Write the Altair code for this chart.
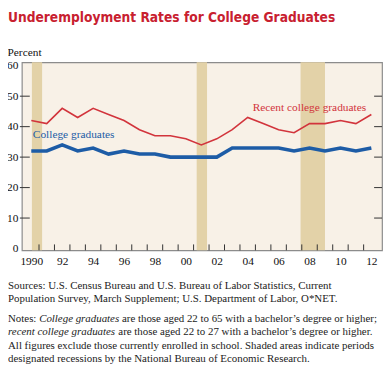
import altair as alt
import pandas as pd

years = list(range(1990, 2013))
recent = [42, 41, 46, 43, 46, 44, 42, 39, 37, 37, 36, 34, 36, 39, 43, 41, 39, 38, 41, 41, 42, 41, 44]
college = [32, 32, 34, 32, 33, 31, 32, 31, 31, 30, 30, 30, 30, 33, 33, 33, 33, 32, 33, 32, 33, 32, 33]
rec_start = [1990.54, 2001.2, 2007.92]
rec_end = [1991.2, 2001.87, 2009.5]
x_labels = ["1990", "92", "94", "96", "98", "00", "02", "04", "06", "08", "10", "12"]
y_ticks = [0, 10, 20, 30, 40, 50, 60]

title_text = "Underemployment Rates for College Graduates"
sources_text = ("Sources: U.S. Census Bureau and U.S. Bureau of Labor Statistics, Current\n"
                "Population Survey, March Supplement; U.S. Department of Labor, O*NET.")
notes_a = "Notes:"
notes_b = "College graduates"
notes_c = "are those aged 22 to 65 with a bachelor\u2019s degree or higher;"
notes_d = "recent college graduates"
notes_e = "are those aged 22 to 27 with a bachelor\u2019s degree or higher."
notes_f = ("All figures exclude those currently enrolled in school. Shaded areas indicate periods\n"
           "designated recessions by the National Bureau of Economic Research.")

W, H = 364, 190
XDOM = [1989.89, 2013.19]
YDOM = [-0.6, 61.1]
SERIF = "Liberation Serif"
TITLE_FONT = "'Liberation Sans Narrow', 'DejaVu Sans Condensed', 'Roboto Condensed', 'Arial Narrow', Roboto, sans-serif"
RED = "#d2343c"
BLUE = "#1d5ca6"
FS = 11  # footnote font size
X0 = -14  # footnote left, relative to plot

df = pd.DataFrame({
    "year": [y + 0.5 for y in years] * 2,
    "value": recent + college,
    "series": ["Recent college graduates"] * len(years) + ["College graduates"] * len(years),
})
rec = pd.DataFrame({"start": rec_start, "end": rec_end})

xscale = alt.Scale(domain=XDOM, nice=False, zero=False)
yscale = alt.Scale(domain=YDOM, nice=False, zero=False)
sdom = ["Recent college graduates", "College graduates"]

label_arr = "[" + ",".join("'%s'" % s for s in x_labels) + "]"

XAX = alt.Axis(values=[1990.5 + 2 * i for i in range(len(x_labels))],
               labelExpr=label_arr + "[floor((datum.value-1990)/2)]",
               ticks=False, domain=False, grid=False, title=None,
               labelOverlap=False, labelFlush=False, labelBound=False,
               labelFont=SERIF, labelFontSize=11.5, labelColor="#111",
               labelPadding=5)
YAX = alt.Axis(values=y_ticks, ticks=False, domain=False, grid=False,
               labelOverlap=False, labelFlush=False, labelBound=False,
               title="Percent", titleAngle=0, titleAlign="left",
               titleBaseline="middle", titleX=-15, titleY=-10,
               titleFont=SERIF, titleFontSize=11.5, titleFontWeight="normal",
               titleColor="#111",
               labelFont=SERIF, labelFontSize=11.5, labelColor="#111",
               labelPadding=4)

bands = alt.Chart(rec).mark_rect(color="#e3d2a8").encode(
    x=alt.X("start:Q", scale=xscale, axis=XAX),
    x2="end:Q",
)

lines = alt.Chart(df).mark_line().encode(
    x=alt.X("year:Q", scale=xscale, axis=XAX),
    y=alt.Y("value:Q", scale=yscale, axis=YAX),
    color=alt.Color("series:N", scale=alt.Scale(domain=sdom, range=[RED, BLUE]), legend=None),
    strokeWidth=alt.StrokeWidth("series:N", scale=alt.Scale(domain=sdom, range=[1.6, 3.6]), legend=None),
)

xt = pd.DataFrame({"t": list(range(1991, 2013))})
xticks = alt.Chart(xt).mark_rule(color="#333", strokeWidth=1).encode(
    x=alt.X("t:Q", scale=xscale, axis=XAX), y=alt.value(H - 6), y2=alt.value(H))

yt = pd.DataFrame({"v": y_ticks[1:-1]})
yticks_l = alt.Chart(yt).mark_rule(color="#333", strokeWidth=1).encode(
    y=alt.Y("v:Q", scale=yscale, axis=YAX), x=alt.value(-2), x2=alt.value(8))
yticks_r = alt.Chart(yt).mark_rule(color="#333", strokeWidth=1).encode(
    y=alt.Y("v:Q", scale=yscale, axis=YAX), x=alt.value(W - 8), x2=alt.value(W))

lab = pd.DataFrame({"x": [1990.6, 2004.82], "y": [37.4, 45.95],
                    "text": ["College graduates", "Recent college graduates"],
                    "series": ["College graduates", "Recent college graduates"]})
labels = alt.Chart(lab).mark_text(align="left", baseline="middle", font=SERIF, fontSize=11.5).encode(
    x=alt.X("x:Q", scale=xscale, axis=XAX), y=alt.Y("y:Q", scale=yscale, axis=YAX), text="text:N",
    color=alt.Color("series:N", scale=alt.Scale(domain=sdom, range=[RED, BLUE]), legend=None),
)

txt = pd.DataFrame({"title": [title_text], "sources": [sources_text],
                    "a": [notes_a], "b": [notes_b], "c": [notes_c],
                    "d": [notes_d], "e": [notes_e], "f": [notes_f]})
base = alt.Chart(txt)
title = base.mark_text(align="left", baseline="alphabetic", font=TITLE_FONT,
                       fontSize=13.8, fontWeight="bold", color="#c8202f").encode(
    x=alt.value(-14), y=alt.value(-41), text="title:N")


def foot(field, x, y, italic=False):
    return base.mark_text(align="left", baseline="alphabetic", font=SERIF, fontSize=FS,
                          fontStyle="italic" if italic else "normal",
                          lineBreak="\n", lineHeight=13.6, color="#222").encode(
        x=alt.value(x), y=alt.value(y), text=f"{field}:N")


# widths (em) of Times-metric segments: "Notes: " = 2.861, "College graduates " = 7.611,
# "recent college graduates " = 10.137
sources = foot("sources", X0, 229)
n_a = foot("a", X0, 262)
n_b = foot("b", X0 + 2.861 * FS, 262, True)
n_c = foot("c", X0 + (2.861 + 7.611) * FS, 262)
n_d = foot("d", X0, 262 + 13.6, True)
n_e = foot("e", X0 + 10.137 * FS, 262 + 13.6)
n_f = foot("f", X0, 262 + 2 * 13.6)

chart = alt.layer(bands, lines, xticks, yticks_l, yticks_r, labels, title,
                  sources, n_a, n_b, n_c, n_d, n_e, n_f).properties(
    width=W, height=H,
    autosize=alt.AutoSizeParams(type="none"),
    padding={"left": 14, "top": 53, "right": 2, "bottom": 120},
    background="white",
).configure_view(fill="#f8f1e7", stroke="#8c8c8c", strokeWidth=1.2
).configure_axis(labelOverlap=False)

chart.save("out.html", embed_options={"renderer": "svg", "actions": False})
